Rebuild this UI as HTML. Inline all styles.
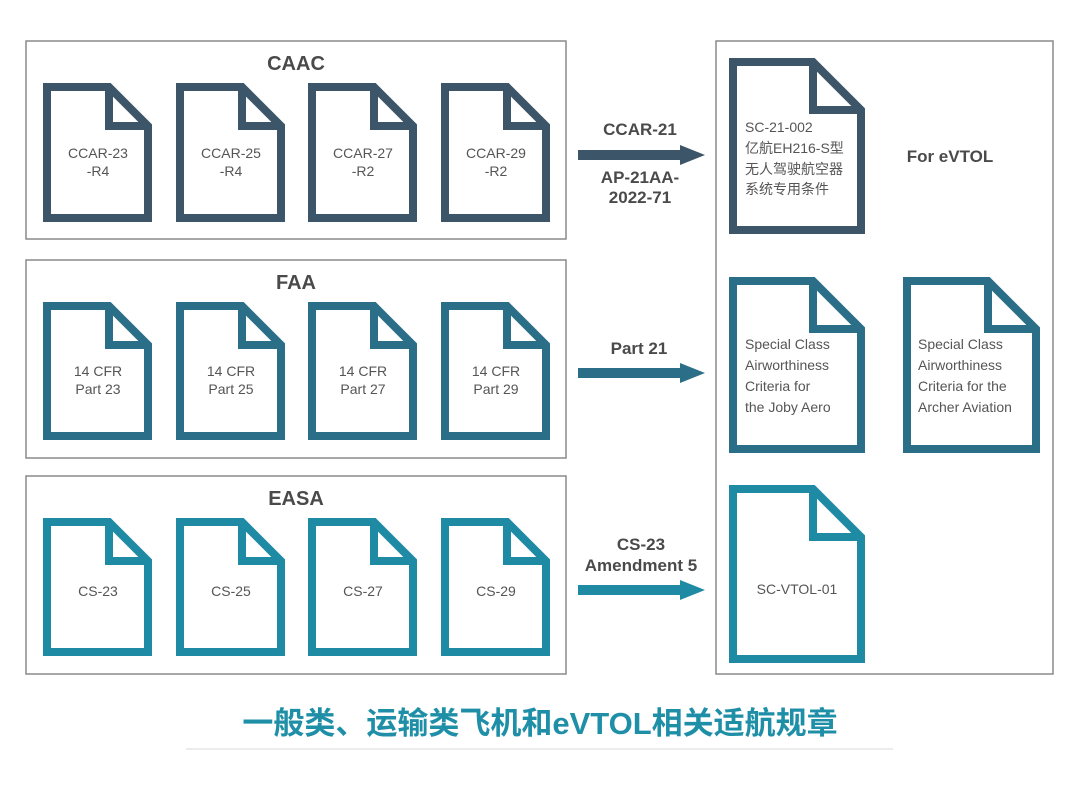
<!DOCTYPE html>
<html><head><meta charset="utf-8"><style>
html,body{margin:0;padding:0;background:#fff;}
svg{display:block;}
text{font-family:"Liberation Sans","Noto Sans CJK SC",sans-serif;}
</style></head><body>
<svg width="1080" height="786" viewBox="0 0 1080 786" xmlns="http://www.w3.org/2000/svg">
<rect width="1080" height="786" fill="#fff"/>
<g fill="none" stroke="#8a8a8a" stroke-width="1.5">
<rect x="26" y="41" width="540" height="198"/>
<rect x="26" y="260" width="540" height="198"/>
<rect x="26" y="476" width="540" height="198"/>
<rect x="716" y="41" width="337" height="633"/>
</g>
<g font-weight="bold" font-size="20" fill="#4a4a4a" text-anchor="middle">
<text x="296" y="70">CAAC</text>
<text x="296" y="289">FAA</text>
<text x="296" y="505">EASA</text>
<text x="950" y="162" font-size="17">For eVTOL</text>
</g>
<g fill="#fff" stroke="#3d5568" stroke-width="8" stroke-linejoin="miter">
<path d="M47 87L109 87L148 126L148 218L47 218Z M109 87L109 126L148 126"/>
<path d="M180 87L242 87L281 126L281 218L180 218Z M242 87L242 126L281 126"/>
<path d="M312 87L374 87L413 126L413 218L312 218Z M374 87L374 126L413 126"/>
<path d="M445 87L507 87L546 126L546 218L445 218Z M507 87L507 126L546 126"/>
<path d="M733 62L813 62L861 110L861 230L733 230Z M813 62L813 110L861 110"/>
</g>
<g fill="#fff" stroke="#2a6f87" stroke-width="8">
<path d="M47 306L109 306L148 345L148 436L47 436Z M109 306L109 345L148 345"/>
<path d="M180 306L242 306L281 345L281 436L180 436Z M242 306L242 345L281 345"/>
<path d="M312 306L374 306L413 345L413 436L312 436Z M374 306L374 345L413 345"/>
<path d="M445 306L507 306L546 345L546 436L445 436Z M507 306L507 345L546 345"/>
<path d="M733 281L813 281L861 329L861 449L733 449Z M813 281L813 329L861 329"/>
<path d="M907 281L988 281L1036 329L1036 449L907 449Z M988 281L988 329L1036 329"/>
</g>
<g fill="#fff" stroke="#1f8aa3" stroke-width="8">
<path d="M47 522L109 522L148 561L148 652L47 652Z M109 522L109 561L148 561"/>
<path d="M180 522L242 522L281 561L281 652L180 652Z M242 522L242 561L281 561"/>
<path d="M312 522L374 522L413 561L413 652L312 652Z M374 522L374 561L413 561"/>
<path d="M445 522L507 522L546 561L546 652L445 652Z M507 522L507 561L546 561"/>
<path d="M733 489L813 489L861 537L861 659L733 659Z M813 489L813 537L861 537"/>
</g>
<g font-size="14" fill="#555" text-anchor="middle">
<text x="98" y="158">CCAR-23</text><text x="98" y="176">-R4</text>
<text x="231" y="158">CCAR-25</text><text x="231" y="176">-R4</text>
<text x="363" y="158">CCAR-27</text><text x="363" y="176">-R2</text>
<text x="496" y="158">CCAR-29</text><text x="496" y="176">-R2</text>
<text x="98" y="376">14 CFR</text><text x="98" y="394">Part 23</text>
<text x="231" y="376">14 CFR</text><text x="231" y="394">Part 25</text>
<text x="363" y="376">14 CFR</text><text x="363" y="394">Part 27</text>
<text x="496" y="376">14 CFR</text><text x="496" y="394">Part 29</text>
<text x="98" y="596">CS-23</text>
<text x="231" y="596">CS-25</text>
<text x="363" y="596">CS-27</text>
<text x="496" y="596">CS-29</text>
<text x="797" y="594">SC-VTOL-01</text>
</g>
<g font-size="14" fill="#555">
<text x="745" y="132">SC-21-002</text>
<text x="745" y="153">亿航EH216-S型</text>
<text x="745" y="174">无人驾驶航空器</text>
<text x="745" y="194">系统专用条件</text>
<text x="745" y="349">Special Class</text>
<text x="745" y="370">Airworthiness</text>
<text x="745" y="391">Criteria for</text>
<text x="745" y="412">the Joby Aero</text>
<text x="918" y="349">Special Class</text>
<text x="918" y="370">Airworthiness</text>
<text x="918" y="391">Criteria for the</text>
<text x="918" y="412">Archer Aviation</text>
</g>
<path d="M578 150L680 150L680 145L705 155L680 165L680 160L578 160Z" fill="#3d5568"/>
<path d="M578 368L680 368L680 363L705 373L680 383L680 378L578 378Z" fill="#2a6f87"/>
<path d="M578 585L680 585L680 580L705 590L680 600L680 595L578 595Z" fill="#1f8aa3"/>
<g font-size="17" font-weight="bold" fill="#4a4a4a" text-anchor="middle">
<text x="640" y="135">CCAR-21</text>
<text x="640" y="183">AP-21AA-</text>
<text x="640" y="203">2022-71</text>
<text x="639" y="354">Part 21</text>
<text x="641" y="550">CS-23</text>
<text x="641" y="571">Amendment 5</text>
</g>
<text x="540" y="734" text-anchor="middle" font-size="31" font-weight="bold" fill="#1f8fa8">一般类、运输类飞机和eVTOL相关适航规章</text>
<line x1="186" y1="749" x2="893" y2="749" stroke="#ececec" stroke-width="2"/>
</svg>
</body></html>
